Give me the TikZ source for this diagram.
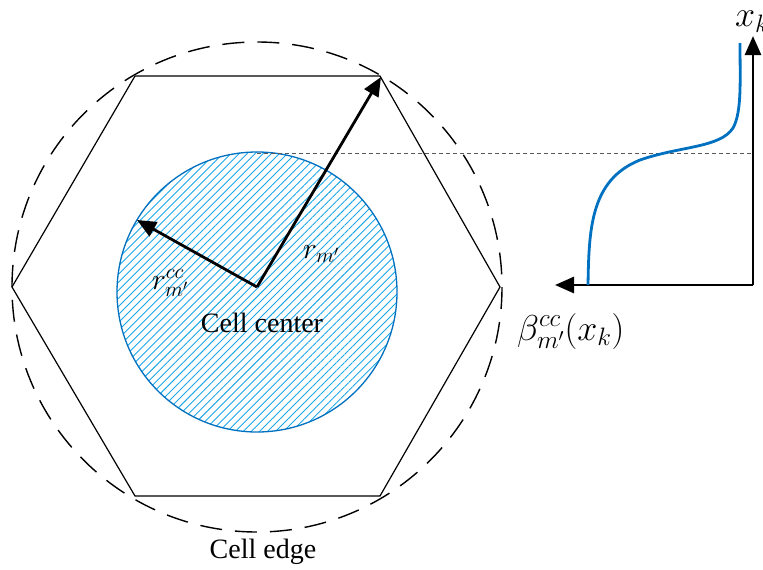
\RequirePackage{fix-cm}
\documentclass[tikz,border=0pt]{standalone}
\usepackage{fontspec}
\setmainfont{Liberation Serif}
\usetikzlibrary{arrows.meta,patterns.meta}
\definecolor{cblue}{HTML}{0070C0}
\definecolor{hblue}{HTML}{1AA7E8}
\tikzset{
  bigarrow/.style={line width=2.8pt,-{Triangle[length=19pt,width=16pt]}},
  lbl/.style={font=\fontsize{28}{32}\selectfont,inner sep=0pt},
  mlbl/.style={font=\fontsize{30}{34}\selectfont,inner sep=0pt},
  blbl/.style={font=\fontsize{36}{40}\selectfont,inner sep=0pt},
}
\begin{document}
\begin{tikzpicture}[x=1pt,y=-1pt]
\useasboundingbox (0,0) rectangle (763,570);
\coordinate (c) at (257,287);
% dashed circle
\draw[line width=1.4pt,dash pattern=on 22pt off 13pt] (c) circle[radius=245];
% hexagon
\draw[line width=1.2pt,line join=miter] (12,287) coordinate (h1) -- (135,76) coordinate (h2) -- (380,76) coordinate (h3) -- (500,287) coordinate (h4) -- (380,496) coordinate (h5) -- (135,496) coordinate (h6) -- cycle;
% cell center circle
\fill[pattern={Lines[angle=45,distance=5.7pt,line width=0.9pt]},pattern color=hblue] (257,292) circle[radius=140];
\draw[cblue,line width=1.3pt] (257,292) circle[radius=140];
% dashed horizontal line
\coordinate (d1) at (257,153);
\coordinate (d2) at (753,153);
\draw[gray!70!black,line width=0.7pt,dash pattern=on 4pt off 3pt] (d1) -- (d2);
% radius arrows
\coordinate (tipR) at (381,77);
\coordinate (tipC) at (137,220);
\draw[bigarrow] (c) -- (tipR);
\draw[bigarrow] (c) -- (tipC);
% labels
\node[mlbl] (rm) at (321,254) {$r_{m'}$};
\node[mlbl] (rcc) at (170,283) {$r^{cc}_{m'}$};
\node[lbl] (cc) at (262,323) {Cell center};
\node[lbl] (ce) at (263,552) {Cell edge};
% axes
\coordinate (o) at (753,285);
\coordinate (ytip) at (753,36);
\coordinate (xtip) at (555,285);
\draw[bigarrow] (o) -- (ytip);
\draw[bigarrow] (o) -- (xtip);
\node[blbl,anchor=base west] (xk) at (735,27) {$x_k$};
\node[blbl,anchor=base west] (beta) at (517,340) {$\beta^{cc}_{m'}(x_k)$};
% curve
\draw[cblue,line width=2.8pt] (588,285) .. controls (589,230) and (590,180) .. (640,160)
  .. controls (680,146) and (720,148) .. (733,128)
  .. controls (742,112) and (740,80) .. (740,43);
\end{tikzpicture}
\end{document}
